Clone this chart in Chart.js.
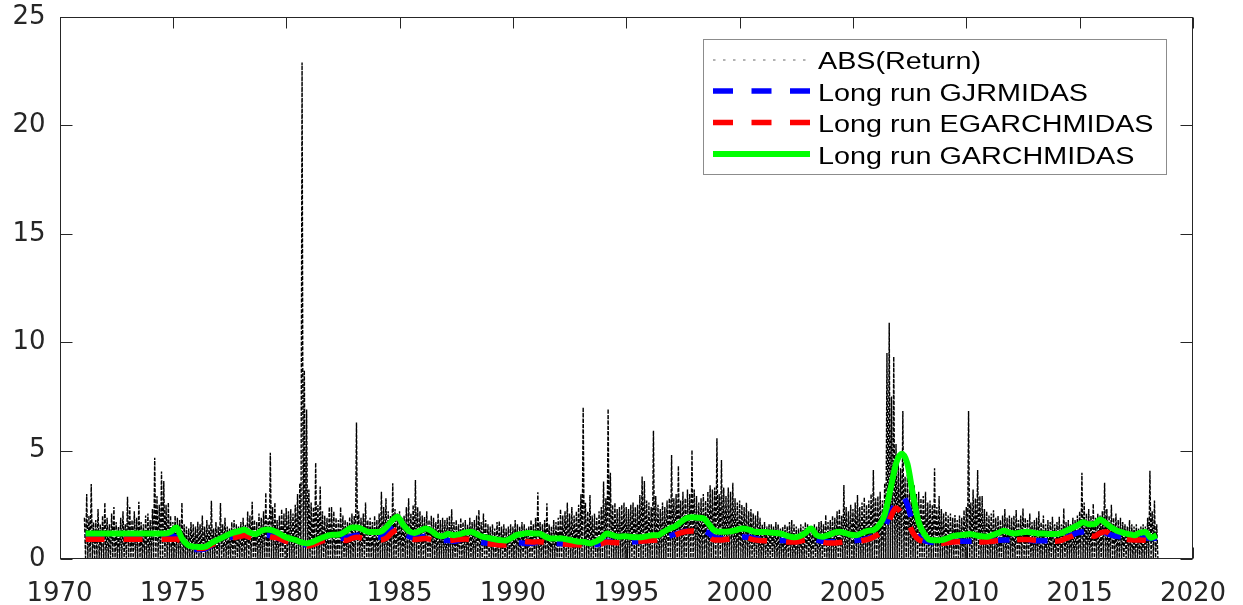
<!DOCTYPE html>
<html>
<head>
<meta charset="utf-8">
<script src="https://cdn.jsdelivr.net/npm/chart.js@4.4.1/dist/chart.umd.min.js"></script>
<style>
  html, body { margin: 0; padding: 0; background: #fff; }
  canvas { display: block; }
</style>
</head>
<body>
<canvas id="myChart" width="1243" height="605"></canvas>
<script>
// x ticks / y ticks
const xTicks = [1970, 1975, 1980, 1985, 1990, 1995, 2000, 2005, 2010, 2015, 2020];
const yTicks = [0, 5, 10, 15, 20, 25];

// ABS(Return): highest daily value in each 0.1-year slot
const absStart = 1971.1;
const absStep = 0.1;
const absFloor = 0.05; // the black band always reaches down to the axis
const absPeak = [
  1.9, 3.0, 2.0, 3.46, 1.7, 1.8, 2.3, 1.6, 2.0,            // 1971
  2.6, 1.9, 1.6, 2.1, 2.4, 1.7, 1.5, 1.9, 2.2, 1.6,       // 1972
  2.87, 2.4, 1.8, 2.2, 1.9, 2.64, 1.7, 1.6, 2.0, 2.1,     // 1973
  1.8, 2.3, 4.67, 2.9, 2.5, 4.03, 3.6, 2.5, 2.6, 2.0,     // 1974
  1.7, 2.0, 1.9, 1.8, 2.6, 1.6, 1.5, 1.4, 1.7, 1.6,       // 1975
  1.5, 1.72, 1.6, 2.0, 1.5, 1.8, 1.6, 2.69, 1.4, 1.7,     // 1976
  1.5, 2.58, 1.6, 1.9, 1.5, 1.4, 1.7, 1.8, 1.6, 1.5,      // 1977
  1.7, 1.9, 1.6, 2.2, 2.0, 2.64, 1.8, 1.7, 2.1, 1.9,      // 1978
  2.2, 3.06, 1.9, 4.9, 2.4, 2.6, 1.8, 2.0, 2.3, 2.1,      // 1979
  2.35, 2.2, 2.3, 2.1, 2.5, 3.0, 3.5, 22.9, 8.7, 6.9,     // 1980
  3.2, 2.6, 2.4, 4.44, 2.5, 3.34, 2.2, 2.0, 1.9, 2.4,     // 1981
  2.4, 2.2, 1.9, 1.8, 2.4, 2.0, 1.8, 1.7, 1.95, 2.1,      // 1982
  2.0, 6.3, 2.2, 1.9, 2.1, 2.6, 1.8, 1.9, 1.7, 2.0,       // 1983
  1.8, 2.1, 3.1, 2.4, 2.8, 2.2, 2.0, 3.49, 2.3, 2.1,      // 1984
  2.2, 1.9, 2.0, 2.4, 2.8, 2.1, 2.5, 3.64, 2.4, 2.2,      // 1985
  2.0, 1.95, 2.2, 1.8, 2.0, 1.9, 1.7, 2.1, 1.8, 1.9,      // 1986
  1.8, 1.9, 2.0, 2.29, 1.7, 1.8, 1.6, 1.9, 1.7, 1.8,      // 1987
  1.6, 1.9, 1.7, 1.8, 2.0, 2.26, 1.7, 2.1, 1.8, 1.6,      // 1988
  1.5, 1.6, 1.4, 1.7, 1.75, 1.5, 1.6, 1.4, 1.5, 1.6,      // 1989
  1.5, 1.8, 1.6, 1.5, 1.7, 1.6, 1.4, 1.5, 1.8, 1.6,       // 1990
  1.9, 3.08, 1.7, 1.6, 1.8, 2.57, 1.6, 1.5, 1.8, 1.7,     // 1991
  1.9, 2.3, 2.0, 2.2, 2.6, 2.1, 2.4, 2.0, 2.2, 2.5,       // 1992
  3.0, 7.0, 2.6, 2.2, 2.95, 2.0, 2.1, 1.9, 2.2, 2.4,      // 1993
  3.57, 2.8, 6.92, 3.98, 2.5, 2.6, 2.3, 2.4, 2.5, 2.6,    // 1994
  2.4, 2.3, 2.5, 2.6, 2.4, 2.5, 2.95, 3.8, 3.6, 2.7,      // 1995
  2.6, 2.4, 5.92, 2.9, 2.5, 2.3, 2.6, 2.4, 2.7, 2.8,      // 1996
  4.8, 2.8, 3.0, 4.3, 2.7, 3.1, 2.8, 3.2, 3.0, 5.03,      // 1997
  3.2, 2.9, 2.6, 2.8, 3.0, 2.7, 3.1, 3.4, 3.2, 3.3,       // 1998
  5.57, 3.0, 4.57, 3.3, 2.9, 3.3, 3.1, 3.52, 2.8, 2.6,    // 1999
  2.7, 2.5, 2.4, 2.6, 2.2, 2.3, 2.1, 2.0, 2.2, 1.9,       // 2000
  1.6, 1.7, 1.5, 1.6, 1.6, 1.5, 1.7, 1.6, 1.4, 1.5,       // 2001
  1.6, 1.5, 1.7, 1.8, 1.6, 1.5, 1.4, 1.6, 1.5, 1.7,       // 2002
  1.6, 1.5, 1.4, 1.6, 1.5, 1.7, 1.75, 1.6, 2.03, 1.7,     // 2003
  1.8, 2.0, 1.9, 2.2, 2.3, 2.0, 3.41, 2.4, 2.2, 2.5,      // 2004
  2.3, 2.6, 2.95, 2.4, 2.6, 2.85, 2.5, 2.7, 3.0, 4.1,     // 2005
  2.8, 2.9, 3.1, 2.7, 3.5, 9.5, 10.9, 7.5, 9.33, 5.3,     // 2006
  4.5, 4.2, 6.83, 3.8, 3.9, 3.5, 3.2, 3.4, 3.0, 3.1,      // 2007
  2.8, 2.9, 3.1, 2.6, 2.7, 2.5, 4.18, 2.4, 2.9, 2.3,      // 2008
  2.1, 2.2, 2.0, 2.1, 1.9, 2.03, 1.8, 2.0, 1.9, 2.25,     // 2009
  2.4, 6.83, 2.6, 3.2, 2.8, 4.1, 2.9, 2.9, 2.3, 2.2,      // 2010
  2.0, 2.1, 2.25, 1.9, 2.0, 1.8, 2.0, 2.3, 1.9, 2.0,      // 2011
  1.9, 2.0, 2.26, 1.8, 2.0, 2.33, 1.9, 1.8, 2.1, 1.7,     // 2012
  1.8, 1.9, 2.2, 1.7, 2.0, 1.6, 1.8, 1.7, 1.95, 1.6,      // 2013
  1.7, 1.95, 1.6, 2.33, 1.7, 1.8, 1.6, 1.9, 1.8, 2.0,     // 2014
  2.2, 3.98, 2.6, 2.1, 2.3, 2.0, 2.55, 1.9, 2.1, 2.0,     // 2015
  2.2, 3.52, 2.3, 2.0, 2.5, 1.9, 2.1, 1.8, 1.9, 1.7,      // 2016
  1.6, 1.5, 1.8, 1.6, 1.5, 1.6, 1.4, 1.5, 1.6, 1.5,       // 2017
  1.9, 4.07, 2.2, 2.7, 1.6                                // 2018
];

// long run components, every quarter year starting 1971.15
const lrStart = 1971.15;
const lrStep = 0.25;
const garchMidas = [
  1.18, 1.18, 1.18, 1.18,  1.18, 1.18, 1.18, 1.18,  1.18, 1.18, 1.18, 1.18,  1.18, 1.18, 1.18, 1.25, // 71-74
  1.45, 0.95, 0.65, 0.57,  0.55, 0.56, 0.7, 0.85,  0.97, 1.1, 1.22, 1.28,  1.35, 1.22, 1.15, 1.3,    // 75-78
  1.36, 1.32, 1.2, 1.05,  0.95, 0.88, 0.78, 0.72,  0.78, 0.9, 1.0, 1.1,  1.12, 1.15, 1.3, 1.45,      // 79-82
  1.45, 1.35, 1.25, 1.25,  1.26, 1.45, 1.75, 1.95,  1.6, 1.3, 1.2, 1.3,  1.41, 1.3, 1.1, 1.05,       // 83-86
  1.15, 1.1, 1.15, 1.22,  1.26, 1.15, 1.03, 0.98,  0.92, 0.88, 0.85, 0.95,  1.1, 1.15, 1.2, 1.18,    // 87-90
  1.18, 1.05, 0.95, 0.95,  0.95, 0.9, 0.85, 0.8,  0.78, 0.72, 0.8, 0.95,  1.18, 1.1, 1.03, 1.05,     // 91-94
  1.03, 1.0, 1.0, 1.05,  1.1, 1.1, 1.25, 1.4,  1.5, 1.7, 1.88, 1.92,  1.9, 1.87, 1.6, 1.3,          // 95-98
  1.26, 1.26, 1.28, 1.35,  1.41, 1.35, 1.26, 1.25,  1.24, 1.22, 1.2, 1.15,  1.05, 1.0, 1.05, 1.2,   // 99-02
  1.41, 1.1, 1.03, 1.1,  1.2, 1.26, 1.2, 1.12,  1.1, 1.2, 1.3, 1.34,  1.55, 2.05, 3.2, 4.4,         // 03-06
  4.85, 4.4, 2.95, 1.7,  1.15, 0.88, 0.86, 0.87,  0.95, 1.05, 1.1, 1.12,  1.15, 1.1, 1.05, 1.03,    // 07-10
  1.1, 1.2, 1.3, 1.22,  1.18, 1.22, 1.26, 1.22,  1.18, 1.18, 1.15, 1.15,  1.18, 1.3, 1.42, 1.55,    // 11-14
  1.7, 1.6, 1.6, 1.82,  1.65, 1.45, 1.3, 1.22,  1.15, 1.1, 1.2, 1.25,  0.98, 1.1                    // 15-18
];
const egarchMidas = [
  0.91, 0.91, 0.91, 0.91,  0.91, 0.91, 0.91, 0.91,  0.91, 0.91, 0.91, 0.91,  0.91, 0.91, 0.91, 0.91,
  0.92, 0.75, 0.55, 0.5,  0.48, 0.5, 0.62, 0.75,  0.85, 0.92, 0.98, 1.03,  1.08, 1.0, 0.95, 1.0,
  1.05, 1.0, 0.95, 0.85,  0.78, 0.7, 0.62, 0.6,  0.65, 0.75, 0.85, 0.9,  0.9, 0.88, 0.85, 0.95,
  1.0, 0.95, 0.9, 0.9,  0.88, 0.95, 1.2, 1.34,  1.1, 0.95, 0.9, 0.92,  0.95, 0.9, 0.85, 0.82,
  0.85, 0.88, 0.9, 0.92,  0.88, 0.78, 0.72, 0.7,  0.68, 0.65, 0.65, 0.7,  0.78, 0.82, 0.8, 0.78,
  0.8, 0.76, 0.72, 0.72,  0.7, 0.68, 0.66, 0.65,  0.64, 0.63, 0.65, 0.7,  0.78, 0.76, 0.75, 0.74,
  0.76, 0.8, 0.82, 0.84,  0.86, 0.88, 0.92, 1.0,  1.1, 1.2, 1.27, 1.29,  1.27, 1.2, 1.0, 0.88,
  0.88, 0.9, 0.92, 0.96,  1.0, 0.95, 0.88, 0.85,  0.84, 0.82, 0.8, 0.8,  0.78, 0.78, 0.82, 0.88,
  0.9, 0.84, 0.78, 0.74,  0.74, 0.76, 0.78, 0.78,  0.8, 0.84, 0.9, 1.0,  1.15, 1.3, 1.9, 2.35,
  2.1, 1.75, 1.2, 0.9,  0.8, 0.74, 0.72, 0.72,  0.75, 0.78, 0.8, 0.8,  0.8, 0.78, 0.78, 0.8,
  0.82, 0.85, 0.86, 0.86,  0.88, 0.9, 0.9, 0.88,  0.86, 0.84, 0.82, 0.82,  0.85, 0.95, 1.05, 1.15,
  1.15, 1.1, 1.05, 1.2,  1.26, 1.1, 1.0, 0.95,  0.9, 0.88, 0.88, 0.86,  0.84, 0.85
];
const gjrMidas = [
  1.1, 1.1, 1.1, 1.1,  1.1, 1.1, 1.1, 1.1,  1.1, 1.1, 1.1, 1.1,  1.1, 1.1, 1.1, 1.1,
  1.0, 0.7, 0.48, 0.44,  0.44, 0.46, 0.6, 0.75,  0.88, 0.95, 1.02, 1.06,  1.1, 1.02, 0.98, 1.05,
  1.1, 1.05, 0.95, 0.85,  0.78, 0.72, 0.68, 0.66,  0.7, 0.78, 0.86, 0.92,  0.95, 0.95, 0.98, 1.05,
  1.1, 1.05, 1.0, 1.0,  1.0, 1.15, 1.45, 1.57,  1.25, 1.05, 0.98, 1.0,  1.05, 0.98, 0.9, 0.85,
  0.85, 0.82, 0.88, 0.92,  0.9, 0.82, 0.76, 0.72,  0.7, 0.68, 0.68, 0.72,  0.75, 0.74, 0.72, 0.74,
  0.78, 0.75, 0.72, 0.72,  0.7, 0.72, 0.72, 0.7,  0.66, 0.64, 0.66, 0.72,  0.82, 0.8, 0.78, 0.76,
  0.78, 0.8, 0.82, 0.88,  0.92, 0.95, 1.0, 1.05,  1.15, 1.22, 1.3, 1.35,  1.37, 1.3, 1.18, 0.98,
  0.96, 0.94, 0.94, 0.98,  1.02, 1.0, 0.95, 0.9,  0.88, 0.86, 0.85, 0.85,  0.84, 0.82, 0.86, 0.95,
  1.0, 0.88, 0.82, 0.8,  0.8, 0.82, 0.84, 0.84,  0.85, 0.88, 0.95, 1.05,  1.2, 1.45, 2.1, 2.6,
  2.95, 2.5, 1.6, 1.05,  0.85, 0.78, 0.76, 0.76,  0.78, 0.8, 0.82, 0.82,  0.82, 0.82, 0.8, 0.8,
  0.84, 0.86, 0.88, 0.88,  0.88, 0.88, 0.86, 0.85,  0.84, 0.84, 0.84, 0.86,  0.9, 1.0, 1.1, 1.2,
  1.26, 1.3, 1.34, 1.3,  1.2, 1.1, 1.05, 1.0,  0.95, 0.92, 0.95, 0.98,  0.95, 0.96
];

const labels = ["ABS(Return)", "Long run GJRMIDAS", "Long run EGARCHMIDAS", "Long run GARCHMIDAS"];

// each slot: its peak, then down to the floor
const absPoints = [];
absPeak.forEach((v, i) => {
  const x = absStart + i * absStep;
  absPoints.push({ x: x, y: v });
  absPoints.push({ x: x + absStep / 2, y: absFloor });
});
const lrPoints = arr => arr.map((v, i) => ({ x: lrStart + i * lrStep, y: v }));

const axisColor = "#262626";
const tickFont = { family: "DejaVu Sans", size: 26 };

// MATLAB style box with ticks pointing inwards
const matlabBox = {
  id: "matlabBox",
  afterDraw(chart) {
    const { ctx, chartArea: a, scales } = chart;
    const L = Math.round(a.left) + 0.5, R = Math.round(a.right) - 0.5;
    const T = Math.round(a.top) + 0.5, B = Math.round(a.bottom) - 0.5;
    ctx.save();
    ctx.strokeStyle = axisColor;
    ctx.lineWidth = 1;
    ctx.setLineDash([]);
    ctx.strokeRect(L, T, R - L, B - T);
    ctx.beginPath();
    scales.x.ticks.forEach(t => {
      const px = Math.round(scales.x.getPixelForValue(t.value)) + 0.5;
      ctx.moveTo(px, B); ctx.lineTo(px, B - 11);
      ctx.moveTo(px, T); ctx.lineTo(px, T + 11);
    });
    scales.y.ticks.forEach(t => {
      const py = Math.round(scales.y.getPixelForValue(t.value)) + 0.5;
      ctx.moveTo(L, py); ctx.lineTo(L + 12, py);
      ctx.moveTo(R, py); ctx.lineTo(R - 12, py);
    });
    ctx.stroke();
    ctx.restore();
  }
};

// legend in a framed box inside the axes, like MATLAB's 'northeast'
const boxLegend = {
  id: "boxLegend",
  afterDraw(chart) {
    const { ctx } = chart;
    const rows = [
      { ds: chart.data.datasets[0], y: 60, text: 68.5, color: "#666", width: 1, dash: [2.5, 7.5] },
      { ds: chart.data.datasets[1], y: 91, text: 100.5, dash: [20, 18.5] },
      { ds: chart.data.datasets[2], y: 122.5, text: 132, dash: [20, 18.5] },
      { ds: chart.data.datasets[3], y: 154, text: 163.5, dash: [] }
    ];
    ctx.save();
    ctx.fillStyle = "#fff";
    ctx.fillRect(703.5, 39.5, 463, 135);
    ctx.strokeStyle = "#8c8c8c";
    ctx.lineWidth = 1;
    ctx.strokeRect(703.5, 39.5, 463, 135);
    rows.forEach(r => {
      ctx.beginPath();
      ctx.setLineDash(r.dash);
      ctx.strokeStyle = r.color || r.ds.borderColor;
      ctx.lineWidth = r.width || r.ds.borderWidth;
      ctx.moveTo(713, r.y);
      ctx.lineTo(810, r.y);
      ctx.stroke();
      ctx.save();
      ctx.translate(818, r.text);
      ctx.scale(1.25, 1);
      ctx.font = '23px "Liberation Sans", Arial, sans-serif';
      ctx.fillStyle = "#000";
      ctx.textBaseline = "alphabetic";
      ctx.fillText(r.ds.label, 0, 0);
      ctx.restore();
    });
    ctx.restore();
  }
};

const data = {
  datasets: [
    {
      label: labels[0],
      data: absPoints,
      borderColor: "#000",
      borderWidth: 1.4,
      borderDash: [4, 1.4],
      pointRadius: 0,
      order: 4,
    },
    {
      label: labels[1],
      data: lrPoints(gjrMidas),
      borderColor: "#0000ff",
      borderWidth: 5.5,
      borderDash: [19, 19],
      pointRadius: 0,
      cubicInterpolationMode: "monotone",
      order: 3,
    },
    {
      label: labels[2],
      data: lrPoints(egarchMidas),
      borderColor: "#ff0000",
      borderWidth: 5.5,
      borderDash: [19, 19],
      pointRadius: 0,
      cubicInterpolationMode: "monotone",
      order: 2,
    },
    {
      label: labels[3],
      data: lrPoints(garchMidas),
      borderColor: "#00ff00",
      borderWidth: 6,
      pointRadius: 0,
      cubicInterpolationMode: "monotone",
      order: 1,
    },
  ],
};

const config = {
  type: "line",
  data: data,
  options: {
    responsive: false,
    animation: false,
    events: [],
    layout: { padding: { top: 17, right: 50, left: 0, bottom: 0 } },
    plugins: {
      legend: { display: false },
      tooltip: { enabled: false },
    },
    scales: {
      x: {
        type: "linear",
        min: xTicks[0],
        max: xTicks[xTicks.length - 1],
        afterBuildTicks: s => { s.ticks = xTicks.map(v => ({ value: v })); },
        afterFit: s => { s.height = 46; },
        // tick marks are drawn inwards by matlabBox; tickLength only spaces the labels
        grid: { display: false, drawTicks: true, tickLength: 20 },
        border: { display: false },
        ticks: {
          color: axisColor,
          font: tickFont,
          padding: 0,
          maxRotation: 0,
          autoSkip: false,
          callback: v => String(v),
        },
      },
      y: {
        type: "linear",
        min: yTicks[0],
        max: yTicks[yTicks.length - 1],
        afterBuildTicks: s => { s.ticks = yTicks.map(v => ({ value: v })); },
        afterFit: s => { s.width = 59.5; },
        grid: { display: false, drawTicks: true, tickLength: 14 },
        border: { display: false },
        ticks: {
          color: axisColor,
          font: tickFont,
          padding: 0,
          callback: v => String(v),
        },
      },
    },
  },
  plugins: [matlabBox, boxLegend],
};

const myChart = new Chart(document.getElementById("myChart"), config);
</script>
</body>
</html>
